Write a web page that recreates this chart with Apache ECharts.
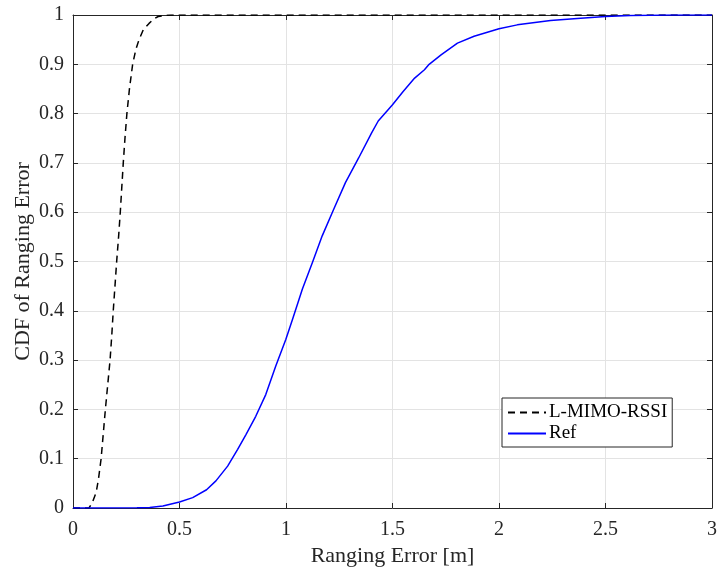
<!DOCTYPE html>
<html>
<head>
<meta charset="utf-8">
<script src="https://cdn.jsdelivr.net/npm/echarts@6/dist/echarts.min.js"></script>
<style>html,body{margin:0;padding:0;background:#fff;}#c{width:720px;height:572px;}</style>
</head>
<body>
<div id="c"></div>
<script>
var xTicks = [0, 0.5, 1, 1.5, 2, 2.5, 3];
var yTicks = [0, 0.1, 0.2, 0.3, 0.4, 0.5, 0.6, 0.7, 0.8, 0.9, 1];
var seriesNames = ['L-MIMO-RSSI', 'Ref'];

var lmimoX = [0, 0.075, 0.09, 0.109, 0.12, 0.132, 0.142, 0.152, 0.163, 0.174, 0.182, 0.189, 0.197, 0.205, 0.214, 0.222, 0.229, 0.236, 0.244, 0.253, 0.265, 0.28, 0.295, 0.31, 0.33, 0.357, 0.38, 0.40, 0.43, 0.46, 3];
var lmimoY = [0, 0, 0.01, 0.032, 0.06, 0.1, 0.15, 0.2, 0.25, 0.3, 0.35, 0.4, 0.45, 0.5, 0.55, 0.6, 0.65, 0.7, 0.75, 0.8, 0.85, 0.9, 0.93, 0.95, 0.97, 0.983, 0.992, 0.997, 0.999, 1, 1];

var refX = [0, 0.3, 0.36, 0.422, 0.5, 0.562, 0.627, 0.671, 0.726, 0.773, 0.812, 0.858, 0.905, 0.952, 0.999, 1.03, 1.061, 1.077, 1.124, 1.17, 1.224, 1.279, 1.341, 1.402, 1.433, 1.5, 1.55, 1.604, 1.65, 1.672, 1.728, 1.805, 1.883, 2.0, 2.086, 2.242, 2.367, 2.5, 2.617, 2.8, 3.0];
var refY = [0, 0.0005, 0.001, 0.004, 0.012, 0.021, 0.037, 0.055, 0.085, 0.119, 0.149, 0.186, 0.23, 0.288, 0.342, 0.382, 0.423, 0.444, 0.498, 0.552, 0.606, 0.66, 0.71, 0.761, 0.785, 0.818, 0.845, 0.872, 0.889, 0.9, 0.919, 0.943, 0.957, 0.972, 0.98, 0.989, 0.993, 0.997, 0.999, 1.0, 1.0];

function pairs(xs, ys) { return xs.map(function (x, i) { return [x, ys[i]]; }); }

var FONT = 'Liberation Serif';
var TXT = '#262626';
var AX = '#262626';
var GRIDC = '#e3e3e3';

var chart = echarts.init(document.getElementById('c'), null, {renderer: 'canvas'});
var baseX = {
  type: 'value', min: xTicks[0], max: xTicks[xTicks.length - 1], interval: xTicks[1] - xTicks[0]
};
var baseY = {
  type: 'value', min: yTicks[0], max: yTicks[yTicks.length - 1], interval: 0.1
};
chart.setOption({
  animation: false,
  backgroundColor: '#fff',
  textStyle: {fontFamily: FONT, color: TXT},
  grid: {left: 73, right: 6, top: 15, bottom: 63, containLabel: false},
  legend: {
    data: seriesNames,
    orient: 'vertical',
    left: 502, top: 398,
    padding: [5, 5, 4, 5],
    itemWidth: 38, itemHeight: 14, itemGap: 2,
    backgroundColor: '#fff',
    borderColor: AX, borderWidth: 1, borderRadius: 0,
    itemStyle: {color: 'rgba(0,0,0,0)', borderWidth: 0, opacity: 0},
    textStyle: {fontFamily: FONT, fontSize: 19, color: '#000', padding: [0, 0, 0, -2], lineHeight: 19}
  },
  xAxis: [
    Object.assign({}, baseX, {
      position: 'bottom',
      name: 'Ranging Error [m]', nameLocation: 'middle', nameGap: 37, nameMoveOverlap: false,
      nameTextStyle: {fontFamily: FONT, fontSize: 22, color: TXT},
      axisLine: {show: true, onZero: false, lineStyle: {color: AX, width: 1}},
      axisTick: {show: true, inside: true, length: 5, lineStyle: {color: AX}},
      axisLabel: {fontFamily: FONT, fontSize: 20, color: TXT, margin: 12},
      splitLine: {show: true, lineStyle: {color: GRIDC, width: 1}}
    }),
    Object.assign({}, baseX, {
      position: 'top',
      axisLine: {show: true, onZero: false, lineStyle: {color: AX, width: 1}},
      axisTick: {show: true, inside: true, length: 5, lineStyle: {color: AX}},
      axisLabel: {show: false},
      splitLine: {show: false}
    })
  ],
  yAxis: [
    Object.assign({}, baseY, {
      position: 'left',
      name: 'CDF of Ranging Error', nameLocation: 'middle', nameGap: 39, nameMoveOverlap: false,
      nameTextStyle: {fontFamily: FONT, fontSize: 22, color: TXT},
      axisLine: {show: true, onZero: false, lineStyle: {color: AX, width: 1}},
      axisTick: {show: true, inside: true, length: 5, lineStyle: {color: AX}},
      axisLabel: {fontFamily: FONT, fontSize: 20, color: TXT, margin: 9},
      splitLine: {show: true, lineStyle: {color: GRIDC, width: 1}}
    }),
    Object.assign({}, baseY, {
      position: 'right',
      axisLine: {show: true, onZero: false, lineStyle: {color: AX, width: 1}},
      axisTick: {show: true, inside: true, length: 5, lineStyle: {color: AX}},
      axisLabel: {show: false},
      splitLine: {show: false}
    })
  ],
  series: [
    {
      name: seriesNames[0], type: 'line', xAxisIndex: 0, yAxisIndex: 0,
      data: pairs(lmimoX, lmimoY), symbol: 'none', showSymbol: false, smooth: false,
      lineStyle: {color: '#000', width: 1.5, type: [7, 5]},
      itemStyle: {color: '#000'}
    },
    {
      name: seriesNames[1], type: 'line', xAxisIndex: 0, yAxisIndex: 0,
      data: pairs(refX, refY), symbol: 'none', showSymbol: false, smooth: false,
      lineStyle: {color: '#0000ff', width: 1.5},
      itemStyle: {color: '#0000ff'}
    }
  ]
});
</script>
</body>
</html>
